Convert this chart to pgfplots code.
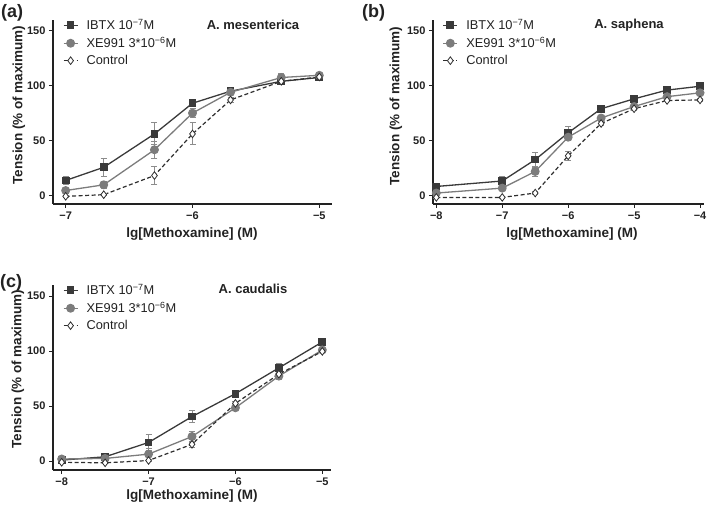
\documentclass[border=0pt]{standalone}
\usepackage{fontspec}
\setmainfont{Liberation Sans}
\usepackage{pgfplots}
\pgfplotsset{compat=1.18}
\definecolor{cI}{HTML}{3A3A3A}
\definecolor{cX}{HTML}{7C7C7C}
\definecolor{cC}{HTML}{2E2E2E}
\definecolor{cE}{HTML}{8C8C8C}
\definecolor{cAx}{HTML}{222222}

\pgfplotsset{
  myleg/.style={legend image code/.code={%
      \draw[mark repeat=2,mark phase=2,##1] plot coordinates {(0bp,0bp) (7bp,0bp) (14bp,0bp)};
      \path[draw=none,fill=none] (0bp,-1bp) rectangle (22bp,1bp);}},
  panel/.style={
    scale only axis, clip=false,
    axis x line*=bottom, axis y line*=left,
    axis line style={line width=1.1bp, color=cAx, -},
    tick align=outside, major tick length=4bp,
    tick style={line width=1bp, color=cAx},
    ymin=-8, ymax=160, ytick={0,50,100,150}, yticklabels={0,50,100,150},
    ticklabel style={font=\bfseries\fontsize{11bp}{13bp}\selectfont, text=cAx},
    legend style={draw=none, fill=none, at={(axis description cs:0.035,1.0)}, anchor=north west,
      yshift=2bp,
      font=\fontsize{12.8bp}{14bp}\selectfont, row sep=4bp, inner sep=0pt, text=cAx,
      nodes={inner sep=1bp}},
    legend cell align=left,
  },
  errb/.style={error bars/y dir=both, error bars/y explicit,
    error bars/error bar style={cE, line width=0.9bp, solid},
    error bars/error mark options={rotate=90, mark size=3bp, cE, line width=0.9bp, solid}},
  ibtx/.style={errb, myleg, color=cI, line width=1.3bp, mark=square*, mark size=3.2bp, mark options={solid, fill=cI, draw=cI}},
  xe/.style={errb, myleg, color=cX, line width=1.3bp, mark=*, mark size=3.8bp, mark options={solid, fill=cX, draw=cX}},
  ctrl/.style={errb, myleg, color=cC, line width=1.2bp, dash pattern=on 4bp off 2.5bp, mark=diamond*, mark size=3.8bp, mark options={solid, fill=white, draw=cC, line width=0.8bp}},
}

\begin{document}
\begin{tikzpicture}
\path[use as bounding box] (0,0) rectangle (709bp,508bp);

% ---------------- (a) ----------------
\begin{axis}[panel, at={(53bp,304bp)}, anchor=south west, width=279bp, height=184bp,
  xmin=-7.1, xmax=-4.9, xtick={-7,-6,-5}, xticklabels={−7,−6,−5}]
\addplot[ibtx] table[x=x,y=y,y error=e] {
x y e
-7 13.5 4
-6.7 25.5 8
-6.3 56 10
-6 84 2
-5.7 95 2
-5.3 104 2
-5 107.5 2
};
\addlegendentry{IBTX 10\textsuperscript{−7}M}
\addplot[xe] table[x=x,y=y,y error=e] {
x y e
-7 4.3 2
-6.7 9.5 3
-6.3 41.5 8
-6 75 4
-5.7 94 2
-5.3 107.5 4
-5 109.5 3
};
\addlegendentry{XE991 3*10\textsuperscript{−6}M}
\addplot[ctrl] table[x=x,y=y,y error=e] {
x y e
-7 -1 1
-6.7 0.5 1
-6.3 18 8.5
-6 56 10
-5.7 87 2
-5.3 104 2
-5 108 2
};
\addlegendentry{Control}
\end{axis}

% ---------------- (b) ----------------
\begin{axis}[panel, at={(433bp,304bp)}, anchor=south west, width=271bp, height=184bp,
  xmin=-8.05, xmax=-3.94, xtick={-8,-7,-6,-5,-4}, xticklabels={−8,−7,−6,−5,−4}]
\addplot[ibtx] table[x=x,y=y,y error=e] {
x y e
-8 8 3
-7 13 4
-6.5 32.5 7
-6 57 6
-5.5 79 2
-5 88 2
-4.5 96 2
-4 99.5 2
};
\addlegendentry{IBTX 10\textsuperscript{−7}M}
\addplot[xe] table[x=x,y=y,y error=e] {
x y e
-8 2 2
-7 6.5 2
-6.5 21.7 5
-6 53 3
-5.5 70.5 2
-5 81 2
-4.5 90 2
-4 93.5 2
};
\addlegendentry{XE991 3*10\textsuperscript{−6}M}
\addplot[ctrl] table[x=x,y=y,y error=e] {
x y e
-8 -2 1
-7 -2 1
-6.5 2 1
-6 36 4
-5.5 65.5 2
-5 79 2
-4.5 86.5 1
-4 87 1
};
\addlegendentry{Control}
\end{axis}

% ---------------- (c) ----------------
\begin{axis}[panel, at={(53bp,38bp)}, anchor=south west, width=278bp, height=185bp,
  xmin=-8.1, xmax=-4.9, xtick={-8,-7,-6,-5}, xticklabels={−8,−7,−6,−5},
  extra x ticks={-7.5,-6.5,-5.5}, extra x tick labels={},
  extra x tick style={major tick length=0bp}]
\addplot[ibtx] table[x=x,y=y,y error=e] {
x y e
-8 1 1
-7.5 4 1
-7 17 7
-6.5 40.5 5.5
-6 61.3 3
-5.5 84.7 4
-5 108.3 2
};
\addlegendentry{IBTX 10\textsuperscript{−7}M}
\addplot[xe] table[x=x,y=y,y error=e] {
x y e
-8 2 1
-7.5 2.5 1
-7 6.4 5
-6.5 22.4 5
-6 48.5 2
-5.5 77.3 3
-5 101 2
};
\addlegendentry{XE991 3*10\textsuperscript{−6}M}
\addplot[ctrl] table[x=x,y=y,y error=e] {
x y e
-8 -1 1
-7.5 -1.5 1
-7 0.6 1
-6.5 15.3 3
-6 52.5 2
-5.5 79 2
-5 99.7 1
};
\addlegendentry{Control}
\end{axis}

% panel letters, titles and axis labels
\tikzset{lab/.style={font=\bfseries\fontsize{13.5bp}{15bp}\selectfont, text=cAx, inner sep=0pt},
         pl/.style={font=\bfseries\fontsize{18bp}{20bp}\selectfont, text=cAx, inner sep=0pt, anchor=north west},
         ttl/.style={font=\bfseries\fontsize{13bp}{15bp}\selectfont, text=cAx, inner sep=0pt}}
\node[pl] at (1bp,504bp) {(a)};
\node[pl] at (362bp,504bp) {(b)};
\node[pl] at (0bp,234bp) {(c)};
\node[ttl] at (253bp,483bp) {A. mesenterica};
\node[ttl] at (629bp,483bp) {A. saphena};
\node[ttl] at (253bp,219bp) {A. caudalis};
\node[lab, rotate=90] at (19bp,403bp) {Tension (\% of maximum)};
\node[lab, rotate=90] at (396bp,402bp) {Tension (\% of maximum)};
\node[lab, rotate=90] at (18bp,139bp) {Tension (\% of maximum)};
\node[lab] at (192bp,274bp) {lg[Methoxamine] (M)};
\node[lab] at (572bp,274bp) {lg[Methoxamine] (M)};
\node[lab] at (192bp,12bp) {lg[Methoxamine] (M)};
\end{tikzpicture}
\end{document}
